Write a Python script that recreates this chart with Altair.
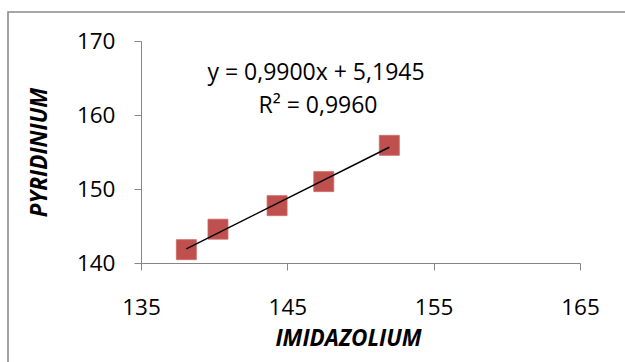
import altair as alt
import pandas as pd

# Measured shifts (ppm) for the two cation families
imidazolium = [138.1, 140.26, 144.3, 147.49, 151.97]
pyridinium = [141.8, 144.57, 147.75, 151.0, 155.9]

# Linear trendline coefficients and fit quality
slope = 0.9900
intercept = 5.1945
eq_text = "y = 0,9900x + 5,1945"
r2_text = "R² = 0,9960"

x_ticks = [135, 145, 155, 165]
y_ticks = [140, 150, 160, 170]

FONT = "Open Sans"
AXIS_GREY = "#868686"

points = pd.DataFrame({"IMIDAZOLIUM": imidazolium, "PYRIDINIUM": pyridinium})
x_lo, x_hi = min(imidazolium), max(imidazolium)
trend = pd.DataFrame({
    "IMIDAZOLIUM": [x_lo, x_hi],
    "PYRIDINIUM": [slope * x_lo + intercept, slope * x_hi + intercept],
})

x_scale = alt.Scale(domain=[135, 165], nice=False, zero=False)
y_scale = alt.Scale(domain=[140, 170], nice=False, zero=False)

x_axis = alt.Axis(
    values=x_ticks, grid=False, domainColor=AXIS_GREY, tickColor=AXIS_GREY,
    tickSize=7, labelPadding=26, labelFont=FONT, labelFontSize=22.5,
    labelFlush=False, labelOverlap=False,
    labelColor="black", title="IMIDAZOLIUM", titleFont=FONT, titleFontSize=22.5,
    titleFontWeight="bold", titleFontStyle="italic", titleColor="black",
    titleX=207, titleY=82, titleAlign="center", titleBaseline="alphabetic",
)
y_axis = alt.Axis(
    values=y_ticks, grid=False, domainColor=AXIS_GREY, tickColor=AXIS_GREY,
    tickSize=7, labelPadding=19, labelFont=FONT, labelFontSize=22.5,
    labelFlush=False, labelOverlap=False,
    labelColor="black", title="PYRIDINIUM", titleFont=FONT, titleFontSize=22.5,
    titleFontWeight="bold", titleFontStyle="italic", titleColor="black",
    titleAngle=270, titleX=-95, titleY=111, titleAlign="center",
    titleBaseline="alphabetic",
)

frame = alt.Chart(pd.DataFrame({"k": [0]})).mark_rect(
    fill="white", fillOpacity=0, stroke="#8a8a8a", strokeWidth=1.6
).encode(
    x=alt.value(-133), x2=alt.value(510), y=alt.value(-29), y2=alt.value(345)
)

markers = alt.Chart(points).mark_point(
    shape="square", size=400, filled=True, color="#C0504D", opacity=1,
    stroke="#c96a67", strokeWidth=0.8,
).encode(
    x=alt.X("IMIDAZOLIUM:Q", scale=x_scale, axis=x_axis),
    y=alt.Y("PYRIDINIUM:Q", scale=y_scale, axis=y_axis),
)

trendline = alt.Chart(trend).mark_line(color="black", strokeWidth=1.5).encode(
    x=alt.X("IMIDAZOLIUM:Q", scale=x_scale),
    y=alt.Y("PYRIDINIUM:Q", scale=y_scale),
)

label_data = pd.DataFrame({"eq": [eq_text], "r2": [r2_text]})
eq_label = alt.Chart(label_data).mark_text(
    font=FONT, fontSize=23, color="black", align="center", baseline="alphabetic"
).encode(text="eq:N", x=alt.value(175), y=alt.value(39))
r2_label = alt.Chart(label_data).mark_text(
    font=FONT, fontSize=23, color="black", align="center", baseline="alphabetic"
).encode(text="r2:N", x=alt.value(177), y=alt.value(72))

chart = alt.layer(frame, markers, trendline, eq_label, r2_label).properties(
    width=439,
    height=222,
    autosize=alt.AutoSizeParams(type="none"),
    padding={"left": 141, "top": 41, "right": 45, "bottom": 99},
    background="white",
).configure_view(stroke=None)

chart.save("out.html", embed_options={"renderer": "svg", "actions": False})
